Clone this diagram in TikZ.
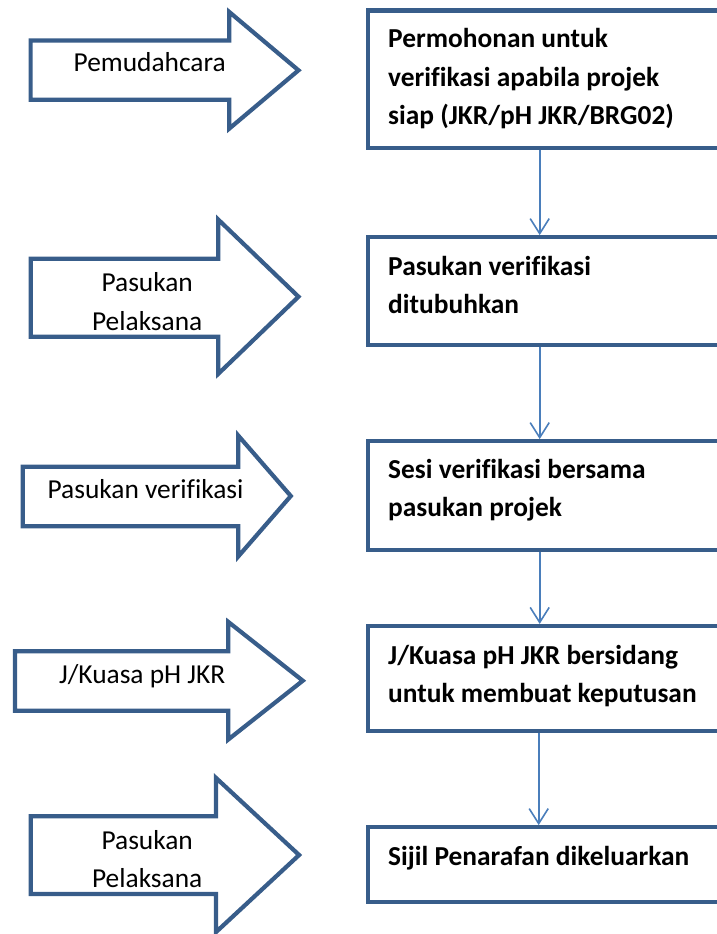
\documentclass[tikz,border=0pt]{standalone}
\usepackage{fontspec}
\setmainfont{Carlito}[Ligatures=NoCommon]
\usetikzlibrary{arrows.meta}
\definecolor{shapeblue}{HTML}{385D8A}
\definecolor{linkblue}{HTML}{4A7EBB}
\begin{document}
\begin{tikzpicture}[x=1pt,y=-1pt,
  stepbox/.style={draw=shapeblue, line width=4.2pt, fill=white, rectangle, minimum width=372.2pt, inner sep=0pt},
  fatarrow/.style={draw=shapeblue, line width=4.2pt, line join=miter, fill=white},
  boxtext/.style={anchor=west, align=left, inner sep=0pt, font=\fontsize{27.4}{38.3}\selectfont\bfseries},
  arrowtext/.style={align=center, inner sep=0pt, font=\fontsize{27.4}{38.3}\selectfont},
  link/.style={draw=linkblue, line width=1.6pt, -{Straight Barb[length=15pt,width=19pt]}}
]
\useasboundingbox (0,0) rectangle (717,934);
\clip (0,0) rectangle (717,934);

% boxes
\node[stepbox, minimum height=137.3pt] (b1) at (553.9,79.15) {};
\node[stepbox, minimum height=107.6pt] (b2) at (553.9,291) {};
\node[stepbox, minimum height=108.8pt] (b3) at (553.9,495.6) {};
\node[stepbox, minimum height=105.2pt] (b4) at (553.9,678.6) {};
\node[stepbox, minimum height=75pt] (b5) at (553.9,864.7) {};

\node[boxtext] (t1) at (388,78.6) {\strut Permohonan untuk\\verifikasi apabila projek\\siap (JKR/pH JKR/BRG02)\strut};
\node[boxtext] (t2) at (388,286.6) {\strut Pasukan verifikasi\\ditubuhkan\strut};
\node[boxtext] (t3) at (388,490.1) {\strut Sesi verifikasi bersama\\pasukan projek\strut};
\node[boxtext] (t4) at (388,675.5) {\strut J/Kuasa pH JKR bersidang\\untuk membuat keputusan\strut};
\node[boxtext] (t5) at (388,858) {\strut Sijil Penarafan dikeluarkan\strut};

% connectors
\draw[link] ([xshift=-14.2pt]b1.south) -- ([xshift=-14.2pt]b2.north);
\draw[link] ([xshift=-14.2pt]b2.south) -- ([xshift=-14.2pt]b3.north);
\draw[link] ([xshift=-14.2pt]b3.south) -- ([xshift=-14.2pt]b4.north);
\draw[link] ([xshift=-15.2pt]b4.south) -- ([xshift=-15.2pt]b5.north);

% block arrows
\draw[fatarrow] (30.6,40.5) -- (229.3,40.5) -- (229.3,12) -- (298.5,70.3) -- (229.3,128.6) -- (229.3,99.8) -- (30.6,99.8) -- cycle;
\node[arrowtext] (a1) at (149.7,64) {\strut Pemudahcara\strut};

\draw[fatarrow] (30.7,258.8) -- (218.3,258.8) -- (218.3,219.6) -- (298.5,296.7) -- (218.3,373.8) -- (218.3,336.8) -- (30.7,336.8) -- cycle;
\node[arrowtext] (a2) at (147.2,303.2) {\strut Pasukan\\Pelaksana\strut};

\draw[fatarrow] (22.8,466.8) -- (238.2,466.8) -- (238.2,435.5) -- (290.8,496) -- (238.2,556.5) -- (238.2,526.2) -- (22.8,526.2) -- cycle;
\node[arrowtext] (a3) at (145.5,490.6) {\strut Pasukan verifikasi\strut};

\draw[fatarrow] (15,651.2) -- (228.3,651.2) -- (228.3,621.9) -- (302.8,680.7) -- (228.3,739.5) -- (228.3,710.8) -- (15,710.8) -- cycle;
\node[arrowtext] (a4) at (142.2,675.6) {\strut J/Kuasa pH JKR\strut};

\draw[fatarrow] (30.7,816.2) -- (216,816.2) -- (216,777.9) -- (299.1,855) -- (216,932.1) -- (216,894) -- (30.7,894) -- cycle;
\node[arrowtext] (a5) at (147.2,860.5) {\strut Pasukan\\Pelaksana\strut};
\end{tikzpicture}
\end{document}
